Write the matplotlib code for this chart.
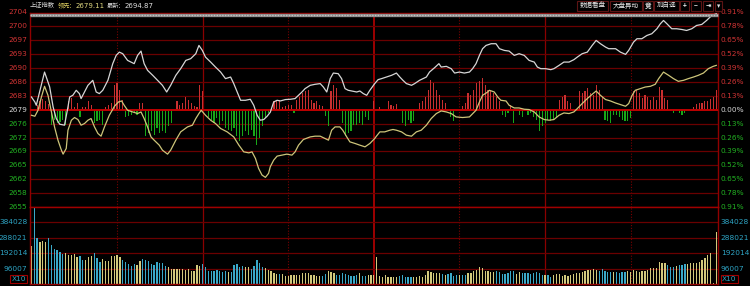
import numpy as np
import matplotlib
matplotlib.use("Agg")
import matplotlib.pyplot as plt
from matplotlib.patches import Rectangle
from matplotlib.transforms import blended_transform_factory

plt.rcParams["font.family"] = ["Noto Sans CJK SC", "DejaVu Sans"]

pre_close = 2679.11
lead_now = "2679.11"
last_now = "2694.87"
pct_max = 0.912  # half height of the price panel, in percent

price_labels = ["2704", "2700", "2697", "2693", "2690", "2686", "2683", "2679",
                "2676", "2672", "2669", "2665", "2662", "2658", "2655"]
pct_labels = ["0.91%", "0.78%", "0.65%", "0.52%", "0.39%", "0.26%", "0.13%", "0.00%",
              "0.13%", "0.26%", "0.39%", "0.52%", "0.65%", "0.78%", "0.91%"]
vol_labels = ["384028", "288021", "192014", "96007"]
vol_step = 96007
buttons = ["数据看盘", "大盘异动", "竞", "加自选", "+", "−", "⇥", "▾"]

# white line: index price (minute from 9:30, price)
index_min = [0.0, 1.2, 1.7, 4.6, 6.4, 7.6, 8.7, 9.9, 11.6, 12.8,
             13.4, 14.5, 15.7, 16.8, 17.4, 18.6, 19.8, 20.9, 21.5, 22.7,
             23.8, 25.0, 26.8, 28.5, 29.7, 30.8, 32.0, 33.7, 34.9, 36.0,
             37.2, 38.4, 39.5, 40.7, 42.5, 44.2, 45.9, 47.4, 48.8, 50.6,
             52.3, 54.1, 55.8, 57.6, 58.7, 59.9, 61.0, 62.8, 64.5, 66.3,
             68.0, 69.8, 70.9, 72.1, 73.3, 75.0, 76.7, 77.9, 79.1, 80.2,
             81.4, 82.6, 83.7, 84.9, 86.1, 87.2, 89.0, 90.7, 92.4, 93.6,
             94.8, 95.9, 97.7, 99.4, 101.2, 102.3, 103.5, 104.7, 105.8, 107.5,
             108.7, 109.9, 111.0, 112.2, 114.0, 115.1, 116.3, 117.5, 118.6, 120.3,
             121.5, 122.7, 124.4, 126.2, 127.9, 129.1, 130.2, 131.4, 133.2, 134.3,
             136.0, 138.4, 139.5, 141.3, 142.8, 143.6, 145.4, 147.1, 148.3, 150.0,
             151.7, 153.5, 154.6, 155.8, 157.0, 158.1, 159.3, 161.1, 162.8, 164.0,
             165.7, 167.4, 169.2, 170.9, 172.7, 174.4, 176.2, 177.3, 178.5, 180.2,
             182.0, 183.1, 184.9, 186.6, 188.4, 190.1, 191.3, 193.0, 194.8, 196.5,
             197.9, 199.4, 201.2, 202.3, 204.7, 206.4, 208.2, 209.3, 211.0, 212.2,
             213.9, 215.7, 217.4, 219.2, 220.4, 221.5, 222.7, 224.4, 226.1, 227.9,
             229.6, 231.4, 233.1, 234.9, 236.6, 238.4, 240.0]
index_val = [2682.32, 2681.06, 2680.24, 2688.58, 2684.82, 2679.81, 2676.90, 2675.48, 2675.23, 2679.81,
             2682.32, 2682.74, 2684.00, 2683.17, 2681.92, 2683.57, 2685.25, 2686.08, 2686.50, 2683.57,
             2683.17, 2684.00, 2686.50, 2690.69, 2692.77, 2693.59, 2693.19, 2691.51, 2691.09, 2690.69,
             2692.77, 2693.85, 2690.69, 2689.01, 2687.76, 2686.50, 2685.25, 2683.57, 2685.25, 2687.76,
             2689.43, 2691.51, 2691.94, 2693.19, 2695.27, 2694.02, 2692.34, 2691.09, 2689.84, 2688.58,
             2686.93, 2687.33, 2685.68, 2683.57, 2681.49, 2681.49, 2681.74, 2680.24, 2677.73, 2676.48,
             2676.65, 2677.48, 2678.48, 2681.06, 2681.49, 2681.32, 2681.67, 2681.74, 2681.92, 2682.74,
             2683.57, 2684.42, 2685.25, 2685.50, 2685.68, 2684.82, 2683.57, 2686.93, 2688.33, 2688.18,
             2686.93, 2684.42, 2684.00, 2683.82, 2683.57, 2683.82, 2683.17, 2682.74, 2684.00, 2685.68,
             2686.68, 2686.93, 2687.33, 2687.76, 2688.33, 2687.33, 2686.50, 2685.68, 2685.25, 2685.68,
             2686.50, 2687.33, 2688.58, 2689.69, 2690.69, 2689.84, 2690.01, 2689.43, 2688.33, 2688.58,
             2688.33, 2688.58, 2689.43, 2690.69, 2692.77, 2694.45, 2695.27, 2695.70, 2695.70, 2694.45,
             2694.02, 2693.85, 2692.77, 2693.19, 2692.77, 2691.51, 2691.09, 2689.84, 2689.43, 2689.43,
             2689.18, 2689.43, 2690.26, 2691.09, 2691.09, 2691.69, 2692.34, 2693.19, 2693.59, 2695.27,
             2696.53, 2695.70, 2694.85, 2694.45, 2694.45, 2693.59, 2693.02, 2694.02, 2696.10, 2696.95,
             2696.95, 2697.78, 2698.21, 2699.46, 2700.71, 2701.54, 2700.71, 2699.46, 2699.46, 2699.28,
             2699.03, 2699.46, 2700.29, 2700.54, 2701.54, 2702.79, 2703.22]

# yellow line: leading (unweighted) index
lead = [(0.0, 2677.73), (1.2, 2677.48), (2.3, 2678.98), (3.5, 2682.32), (4.6, 2685.00),
        (5.8, 2682.74), (7.0, 2678.56), (8.1, 2674.80), (9.3, 2671.47), (10.5, 2668.96),
        (11.1, 2667.96), (12.2, 2669.39), (12.8, 2673.97), (14.0, 2676.48), (15.1, 2677.16),
        (16.3, 2676.65), (17.4, 2675.23), (18.6, 2675.65), (19.8, 2676.48), (20.9, 2676.90),
        (22.1, 2674.80), (23.3, 2673.15), (24.4, 2672.47), (25.6, 2674.80), (27.3, 2677.73),
        (29.1, 2679.99), (30.5, 2681.06), (31.6, 2681.32), (32.5, 2680.24), (33.7, 2678.98),
        (35.5, 2678.56), (37.2, 2678.16), (38.4, 2678.56), (39.5, 2676.90), (40.7, 2674.80),
        (41.9, 2672.29), (43.0, 2671.47), (44.8, 2670.21), (45.9, 2668.96), (47.7, 2667.96),
        (48.8, 2668.96), (50.6, 2671.47), (52.3, 2673.55), (54.7, 2674.80), (56.4, 2675.23),
        (57.6, 2676.90), (58.7, 2678.16), (59.5, 2678.98), (61.0, 2677.73), (62.8, 2676.48),
        (64.5, 2675.65), (66.3, 2674.40), (68.6, 2673.55), (70.9, 2672.29), (72.7, 2670.21),
        (74.4, 2668.53), (76.2, 2668.28), (77.3, 2668.53), (78.5, 2666.88), (79.6, 2664.38),
        (80.8, 2662.70), (82.0, 2662.12), (83.1, 2663.12), (83.7, 2664.78), (84.9, 2666.45),
        (86.1, 2667.46), (87.8, 2667.71), (89.5, 2667.96), (91.3, 2667.71), (92.4, 2668.53),
        (93.6, 2670.21), (95.3, 2671.64), (97.7, 2672.29), (99.4, 2672.47), (101.2, 2672.47),
        (102.9, 2671.89), (104.1, 2671.47), (105.2, 2673.97), (106.4, 2674.80), (108.1, 2674.80),
        (109.1, 2673.97), (110.5, 2672.29), (111.6, 2671.04), (113.4, 2670.64), (115.1, 2670.21),
        (116.9, 2669.79), (118.6, 2670.64), (120.3, 2671.89), (120.9, 2672.47), (122.1, 2673.55),
        (123.8, 2673.55), (125.6, 2673.97), (126.7, 2674.15), (127.9, 2673.97), (129.7, 2673.55),
        (131.4, 2672.72), (133.2, 2672.47), (134.9, 2673.55), (136.6, 2673.97), (138.4, 2675.23),
        (140.1, 2676.90), (141.9, 2678.16), (143.6, 2678.81), (145.4, 2678.56), (147.1, 2678.16),
        (148.8, 2677.31), (151.1, 2677.16), (153.5, 2677.31), (155.8, 2678.98), (157.0, 2681.06),
        (158.1, 2682.74), (159.9, 2683.57), (160.5, 2684.00), (162.2, 2683.57), (163.4, 2682.32),
        (164.5, 2681.49), (166.3, 2681.32), (167.4, 2680.24), (169.2, 2679.56), (170.9, 2679.56),
        (172.7, 2679.24), (174.4, 2679.16), (176.2, 2678.56), (177.9, 2677.31), (179.7, 2676.65),
        (181.4, 2676.48), (183.1, 2676.65), (184.9, 2677.73), (186.6, 2678.31), (188.4, 2678.16),
        (190.1, 2678.56), (191.3, 2679.41), (193.0, 2680.66), (194.8, 2681.92), (196.5, 2682.99),
        (197.9, 2683.82), (199.4, 2682.74), (201.2, 2681.67), (202.9, 2681.32), (204.7, 2680.81),
        (206.4, 2680.41), (208.2, 2679.99), (209.3, 2680.66), (210.5, 2682.74), (211.6, 2684.00),
        (213.4, 2684.42), (215.1, 2684.82), (216.9, 2685.00), (218.6, 2685.50), (219.8, 2686.93),
        (221.5, 2688.58), (223.3, 2687.76), (225.0, 2686.93), (226.7, 2686.25), (228.5, 2686.50),
        (230.2, 2686.93), (232.0, 2687.33), (233.7, 2687.76), (235.5, 2688.33), (237.2, 2689.43),
        (238.9, 2690.01), (240.0, 2690.26)]

# red/green strength bars, in index points above/below previous close
power = [(2, 1.3), (3, 2.1), (4, 2.7), (5, 2.1), (6, 1.5),
         (7, -3.8), (8, -2.5), (9, -3.3), (10, -3.2), (11, -2.5), (12, -3.8),
         (13, 2.1), (14, 2.9), (15, 0.8), (16, 1.7), (17, -1.7),
         (18, 0.7), (19, 0.8), (20, 2.1), (21, 1.3),
         (22, -3.3), (23, -2.9), (24, -2.5), (25, -3.8),
         (26, 0.7), (27, 1.3), (28, 1.7), (29, 6.3), (30, 6.7), (31, 5.0), (32, 2.5),
         (33, -1.7), (34, -1.5), (35, -1.3), (36, -0.8), (37, -1.3), (38, 1.7), (39, 1.7),
         (40, -6.7), (41, -5.8), (42, -5.4), (43, -6.3), (44, -4.6), (45, -5.8), (46, -5.4),
         (47, -5.8), (48, -4.2), (49, -3.3),
         (51, 2.3), (52, 1.3), (53, 1.7), (54, 3.3), (55, 2.5), (56, 1.7), (57, 1.0), (58, 0.8),
         (59, 6.3), (60, 4.6),
         (62, -1.7), (63, -2.5), (64, -3.3), (65, -2.1), (66, -3.8), (67, -2.9), (68, -4.6),
         (69, -5.0), (70, -5.4), (71, -4.6), (72, -6.7), (73, -7.9), (74, -6.7), (75, -5.4),
         (76, -6.3), (77, -5.0), (78, -6.7), (79, -8.8), (80, -7.1), (81, -4.2), (82, -2.1),
         (83, -0.8),
         (85, 2.1), (86, 2.3), (87, 2.5), (88, 0.8), (89, 1.0), (90, 1.3), (91, 1.3), (92, -0.7),
         (93, 2.5), (94, 3.3), (95, 4.2), (96, 4.6), (97, 5.0), (98, 2.5), (99, 1.7), (100, 2.1),
         (101, 1.3), (102, 1.0), (103, -1.5), (104, -4.2),
         (105, 4.6), (106, 6.3), (107, 5.4), (108, 2.5),
         (109, -3.3), (110, -6.7), (111, -5.8), (112, -5.4), (113, -3.8), (114, -3.8),
         (115, -3.3), (116, -3.8), (117, -1.7), (118, -2.5),
         (120, 2.3), (122, 0.8), (123, -0.4),
         (125, 2.1), (126, 1.3), (127, 1.0), (128, 1.5),
         (130, -3.3), (131, -4.2), (132, -2.5), (133, -3.3), (134, -2.9),
         (136, 1.7), (137, 2.1), (138, 3.3), (139, 5.0), (140, 7.5), (141, 6.7), (142, 5.0),
         (143, 3.8), (144, 2.5), (145, 1.7),
         (147, -1.7), (148, -2.9), (149, -0.4),
         (151, 1.0), (152, 1.7), (153, 4.2), (154, 3.8), (155, 5.0), (156, 6.7), (157, 7.1),
         (158, 7.9), (159, 6.3), (160, 5.0), (161, 4.6), (162, 4.2), (163, 3.3), (164, 2.1),
         (165, -1.4), (166, -1.7), (167, -0.8), (168, 1.3),
         (169, -3.3), (170, -0.4), (171, -1.3), (172, -1.7), (174, -1.3), (175, -0.8),
         (176, -1.7), (177, -2.5), (178, -5.4), (179, -4.2), (180, -3.3), (181, -2.5),
         (182, -2.9), (183, -2.5), (184, -1.7),
         (185, 2.5), (186, 3.3), (187, 3.8), (188, 2.1), (189, 1.7), (190, -0.4),
         (192, 4.6), (193, 4.3), (194, 4.6), (195, 5.4), (196, 4.2), (197, 3.8), (198, 6.3),
         (199, 5.0), (200, 3.3),
         (201, -2.5), (202, -2.9), (203, -3.3), (204, -1.3), (205, -1.3), (206, -1.7),
         (207, -2.5), (208, -2.9), (209, -2.9), (210, -2.1),
         (211, 4.6), (212, 5.0), (213, 4.2), (214, 2.9), (215, 3.8), (216, 3.3), (217, 2.5),
         (218, 3.3), (219, 2.5), (220, 5.8), (221, 5.0), (222, 2.9), (223, 2.5),
         (224, -0.4), (225, -0.8), (226, -0.4), (227, -0.8), (228, -1.3), (229, -0.8),
         (232, 0.8), (233, 1.5), (234, 1.7), (235, 1.7), (236, 2.1), (237, 2.3), (238, 2.7),
         (239, 3.3), (240, 5.0)]

# per-minute volume, 9:30 .. 15:00 (241 bars)
vol_am1 = [236900, 477900, 288800, 263900, 268100, 263900, 288800, 243100, 218200, 212000,
           201600, 184900, 195300, 180800, 180800, 184900, 170400, 174600, 149600, 149600,
           170400, 174600, 195300, 164200, 139200, 153800, 143400, 143400, 174600, 174600,
           180800, 170400, 149600, 139200, 122600, 114300, 124700, 118400, 145500, 153800,
           149600, 145500, 122600, 118400, 137100, 128800, 133000, 114300, 103900, 93500,
           91400, 93500, 93500, 91400, 87300, 91400, 81000, 79000, 116400, 112200,
           124700, 108100, 83100, 83100, 83100, 87300, 79000, 76900, 79000, 76900,
           74800, 116400, 122600, 108100, 112200, 108100, 103900]
vol_mid = [93500, 112200, 149600, 128800, 108100, 97700, 87300, 81000, 70700, 62300,
           62300, 60300, 49900, 49900, 56100, 54000, 54000, 56100, 66500, 68600,
           68600, 56100, 54000, 49900, 52000, 49900, 62300, 83100, 76900, 66500,
           56100, 54000, 66500, 64400, 58200, 49900, 49900, 56100, 66500, 49900,
           49900, 58200, 58200, 56100, 166200, 49900, 45700, 56100, 45700, 45700,
           45700, 45700, 49900, 54000, 45700, 45700, 41600, 45700, 45700, 49900,
           45700, 56100, 83100, 74800, 66500, 70700, 66500, 60300, 56100, 60300,
           66500, 49900, 54000, 58200, 54000, 56100, 66500, 70700, 81000, 87300,
           103900, 97700, 81000, 83100, 76900, 72700, 81000]
vol_pm2 = [76900, 62300, 62300, 66500, 79000, 83100, 62300, 72700, 66500, 70700,
           66500, 62300, 66500, 76900, 70700, 56100, 54000, 54000, 45700, 56100,
           60300, 62300, 49900, 56100, 49900, 56100, 62300, 66500, 70700, 74800,
           81000, 87300, 87300, 91400, 87300, 83100, 93500, 83100, 76900, 76900,
           72700, 72700, 70700, 72700, 76900, 81000, 76900, 87300, 83100, 76900, 79000,
           83100, 87300, 97700, 97700, 97700, 137100, 133000, 128800, 116400, 108100,
           108100, 112200, 118400, 118400, 124700, 122600, 128800, 128800, 133000, 139200,
           149600, 164200, 180800, 191200, 8300, 325000]
volume = vol_am1 + vol_mid + vol_pm2

W, H = 750, 286
BG = "black"
GRID = "#6a0000"
RED_TXT = "#d03434"
GREEN_TXT = "#22b022"
CYAN_TXT = "#2ea4c4"

fig = plt.figure(figsize=(7.5, 2.86), dpi=100, facecolor=BG)
ax = fig.add_axes([30 / W, 1 - 207 / H, 688 / W, 194.5 / H], facecolor=BG)
axv = fig.add_axes([30 / W, 1 - 284 / H, 688 / W, 77 / H], facecolor=BG)

lo = pre_close * (1 - pct_max / 100)
hi = pre_close * (1 + pct_max / 100)
for a in (ax, axv):
    a.set_xlim(-0.5, 240.6)
    a.set_xticks([])
    a.set_yticks([])
    for s in a.spines.values():
        s.set_color("#900000")
        s.set_linewidth(1.0)
    for m in (30, 90, 150, 210):
        a.axvline(m, color="#7a0000", lw=0.8, ls=(0, (1, 1.5)), zorder=1)
    for m in (60, 180):
        a.axvline(m, color="#8a0000", lw=0.9, zorder=1)
    a.axvline(120, color="#b80000", lw=1.2, zorder=1)
ax.set_ylim(lo, hi)
axv.set_ylim(0, vol_step * 5)

# price grid + labels
tr_l = blended_transform_factory(ax.transAxes, ax.transData)
levels = [pre_close * (1 + k * pct_max / 700) for k in range(7, -8, -1)]
for i, y in enumerate(levels):
    k = 7 - i
    if k == 0:
        ax.axhline(y, color="#c00000", lw=1.4, zorder=3)
        col = "#d4d4d4"
    else:
        if abs(k) < 7:
            ax.axhline(y, color=GRID, lw=0.9, zorder=1)
        col = RED_TXT if k > 0 else GREEN_TXT
    ax.text(-0.004, y, price_labels[i], transform=tr_l, ha="right", va="center",
            color=col, fontsize=5.3, family="DejaVu Sans")
    ax.text(1.004, y, pct_labels[i], transform=tr_l, ha="left", va="center",
            color=col, fontsize=5.3, family="DejaVu Sans", clip_on=False)
ax.spines["bottom"].set_color("#a00000")

# gray strip along the top
ax.plot([0, 1], [0.988, 0.988], transform=ax.transAxes, color="#8c8c8c", lw=2.4,
        solid_capstyle="butt", clip_on=False, zorder=6)
ax.plot([0, 1], [0.988, 0.988], transform=ax.transAxes, color="#c4c4c4", lw=1.0,
        ls=(0, (1, 1)), clip_on=False, zorder=7)

# strength bars
pm = [p[0] for p in power]
pv = [p[1] for p in power]
ax.bar(pm, pv, bottom=pre_close, width=0.4,
       color=["#c83030" if v > 0 else "#18a818" for v in pv], zorder=2)

ax.plot([p[0] for p in lead], [p[1] for p in lead], color="#cdc57a", lw=0.9, zorder=4)
ax.plot(index_min, index_val, color="#d6d6d6", lw=0.9, zorder=5)

# volume
minutes = np.arange(len(volume))
px = np.interp(minutes, index_min, index_val)
up = np.diff(px, prepend=px[0]) >= 0
axv.bar(minutes, volume, width=0.45,
        color=["#d2c97c" if u else "#3aa8c8" for u in up], zorder=2)
for k in range(1, 5):
    axv.axhline(vol_step * k, color=GRID, lw=0.9, zorder=1)
tr_v = blended_transform_factory(axv.transAxes, axv.transData)
for k, lab in zip((4, 3, 2, 1), vol_labels):
    axv.text(-0.004, vol_step * k, lab, transform=tr_v, ha="right", va="center",
             color=CYAN_TXT, fontsize=5.3, family="DejaVu Sans")
    axv.text(1.004, vol_step * k, lab, transform=tr_v, ha="left", va="center",
             color=CYAN_TXT, fontsize=5.3, family="DejaVu Sans")
axv.spines["top"].set_color("#a00000")
box = dict(boxstyle="square,pad=0.15", fc=BG, ec="#a00000", lw=0.8)
axv.text(-0.006, 0.06, "X10", transform=axv.transAxes, ha="right", va="center",
         color=CYAN_TXT, fontsize=5.3, family="DejaVu Sans", bbox=box)
axv.text(1.006, 0.06, "X10", transform=axv.transAxes, ha="left", va="center",
         color=CYAN_TXT, fontsize=5.3, family="DejaVu Sans", bbox=box)

# header line
ty = 1 - 5.5 / H
fig.text(30 / W, ty, "上证指数", color="#d8d8d8", fontsize=4.5, va="center")
fig.text(58 / W, ty, "领先:", color="#e0d060", fontsize=4.5, va="center")
fig.text(76 / W, ty, lead_now, color="#e0d880", fontsize=5.0, va="center",
         family="DejaVu Sans")
fig.text(107 / W, ty, "最新:", color="#d8d8d8", fontsize=4.5, va="center")
fig.text(125 / W, ty, last_now, color="#e0e0e0", fontsize=5.0, va="center",
         family="DejaVu Sans")

# buttons at top right
edges = [(577, 608), (610, 642), (643, 653), (654, 679), (680, 689), (691, 701),
         (703, 713), (715, 722)]
for (x0, x1), lab in zip(edges, buttons):
    fig.patches.append(Rectangle((x0 / W, 1 - 11 / H), (x1 - x0) / W, 10.5 / H,
                                 transform=fig.transFigure, fc=BG, ec="#5c1414", lw=0.8))
    fig.text((x0 + x1) / 2 / W, ty, lab, color="#e6e6e6", fontsize=4.7,
             ha="center", va="center", fontweight="bold" if len(lab) == 1 else "normal")

fig.savefig("out.png", dpi=100, facecolor=BG)
